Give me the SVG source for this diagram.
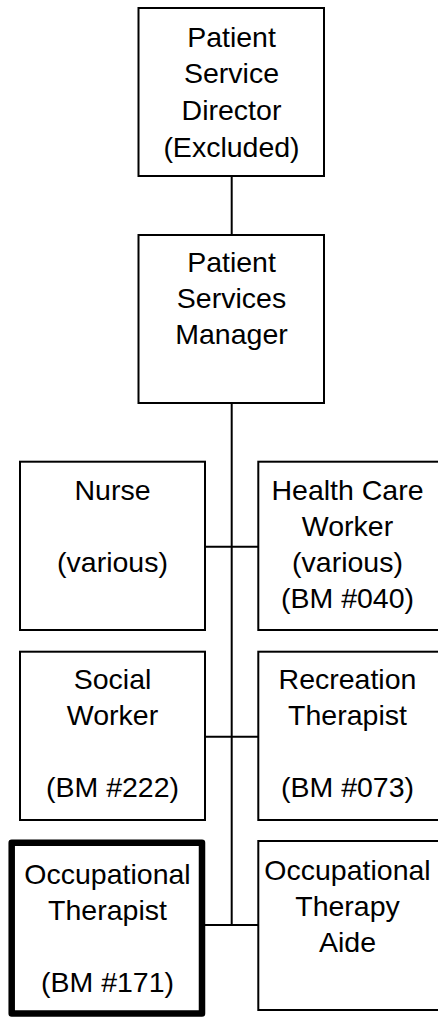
<svg xmlns="http://www.w3.org/2000/svg" width="438" height="1019" viewBox="0 0 438 1019">
<style>
.box{fill:#fff;stroke:#000;stroke-width:2}
.thick{fill:#fff;stroke:#000;stroke-width:6.5;stroke-linejoin:round}
.con{stroke:#000;stroke-width:2;fill:none}
text{font-family:"Liberation Sans",Arial,sans-serif;font-size:28.5px;fill:#000;text-anchor:middle}
</style>
<rect width="438" height="1019" fill="#fff"/>
<g id="connectors">
<line class="con" x1="231.7" y1="176" x2="231.7" y2="235"/>
<line class="con" x1="231.7" y1="403" x2="231.7" y2="925"/>
<line class="con" x1="205" y1="546.7" x2="258.3" y2="546.7"/>
<line class="con" x1="205" y1="736.7" x2="258.3" y2="736.7"/>
<line class="con" x1="202" y1="925" x2="258.3" y2="925"/>
</g>
<g id="director">
<rect class="box" x="138.5" y="8" width="185.5" height="168"/>
<text x="231.5" y="46.7">Patient</text>
<text x="231.5" y="83.3">Service</text>
<text x="231.5" y="119.9">Director</text>
<text x="231.5" y="156.5">(Excluded)</text>
</g>
<g id="manager">
<rect class="box" x="138.5" y="235" width="185.5" height="168"/>
<text x="231.5" y="272">Patient</text>
<text x="231.5" y="308">Services</text>
<text x="231.5" y="344">Manager</text>
</g>
<g id="nurse">
<rect class="box" x="20" y="461.7" width="185" height="168.3"/>
<text x="112.5" y="500">Nurse</text>
<text x="112.5" y="572">(various)</text>
</g>
<g id="hcw">
<rect class="box" x="258.3" y="461.7" width="186" height="168.3"/>
<text x="347.5" y="500">Health Care</text>
<text x="347.5" y="536">Worker</text>
<text x="347.5" y="572">(various)</text>
<text x="347.5" y="608">(BM #040)</text>
</g>
<g id="social">
<rect class="box" x="20" y="651.7" width="185" height="168.3"/>
<text x="112.5" y="689">Social</text>
<text x="112.5" y="725">Worker</text>
<text x="112.5" y="797">(BM #222)</text>
</g>
<g id="recreation">
<rect class="box" x="258.3" y="651.7" width="186" height="168.3"/>
<text x="347.5" y="689">Recreation</text>
<text x="347.5" y="725">Therapist</text>
<text x="347.5" y="797">(BM #073)</text>
</g>
<g id="ot">
<rect class="thick" x="11.7" y="842.7" width="190.3" height="170.8"/>
<text x="107.5" y="884">Occupational</text>
<text x="107.5" y="920">Therapist</text>
<text x="107.5" y="992">(BM #171)</text>
</g>
<g id="ota">
<rect class="box" x="258.3" y="841" width="186" height="169"/>
<text x="347.5" y="880">Occupational</text>
<text x="347.5" y="916">Therapy</text>
<text x="347.5" y="952">Aide</text>
</g>
</svg>
